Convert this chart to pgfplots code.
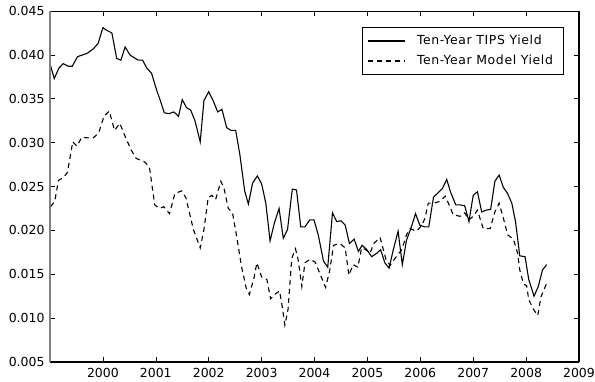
\documentclass[border=0pt]{standalone}
\usepackage{fontspec}
\setmainfont{DejaVu Sans}
\newfontfamily\legfont[LetterSpace=5]{DejaVu Sans}
\usepackage{pgfplots}
\pgfplotsset{compat=1.18}
\begin{document}
\begin{tikzpicture}
\begin{axis}[
  scale only axis,
  clip=false,
  width=529bp, height=351bp,
  xmin=1999, xmax=2009,
  ymin=0.005, ymax=0.045,
  scaled y ticks=false,
  scaled x ticks=false,
  /pgf/number format/assume math mode=true,
  xtick={2000,2001,2002,2003,2004,2005,2006,2007,2008,2009},
  xticklabels={2000,2001,2002,2003,2004,2005,2006,2007,2008,2009},
  ytick={0.005,0.010,0.015,0.020,0.025,0.030,0.035,0.040,0.045},
  yticklabels={0.005,0.010,0.015,0.020,0.025,0.030,0.035,0.040,0.045},
  tick align=inside,
  major tick length=5bp,
  tick style={black, line width=0.6pt},
  axis line style={draw=none},
  tick label style={font=\fontsize{12.5}{14}\selectfont},
  xticklabel style={yshift=-3bp},
  yticklabel style={xshift=-2bp},
  legend cell align=left,
  legend style={at={(0.59,0.954)}, anchor=north west, draw=black, line width=0.6pt,
    inner xsep=5bp, inner ysep=6bp, row sep=5bp, column sep=6bp,
    nodes={font=\legfont\fontsize{12.5}{15}\selectfont, inner xsep=5bp}},
  legend image code/.code={\draw[#1, line width=1.6pt] (0bp,0bp) -- (37bp,0bp);},
]
\addplot[black, line width=1.1pt] coordinates {
(1999.00,0.0390) (1999.08,0.0373) (1999.17,0.0385) (1999.25,0.0390) (1999.35,0.0387)
(1999.42,0.0387) (1999.52,0.0398) (1999.62,0.0400) (1999.71,0.0402) (1999.82,0.0407)
(1999.91,0.0413) (2000.00,0.0431) (2000.07,0.0428) (2000.17,0.0425) (2000.26,0.0396)
(2000.34,0.0394) (2000.42,0.0409) (2000.51,0.0400) (2000.61,0.0396) (2000.67,0.0394)
(2000.75,0.0394) (2000.83,0.0385) (2000.92,0.0379) (2001.02,0.0359) (2001.08,0.0349)
(2001.16,0.0334) (2001.25,0.0333) (2001.34,0.0335) (2001.43,0.0330) (2001.50,0.0349)
(2001.58,0.0340) (2001.66,0.0337) (2001.74,0.0325) (2001.84,0.0301) (2001.91,0.0348)
(2002.00,0.0358) (2002.09,0.0347) (2002.17,0.0335) (2002.25,0.0338) (2002.34,0.0317)
(2002.42,0.0314) (2002.51,0.0314) (2002.59,0.0286) (2002.68,0.0245) (2002.75,0.0230)
(2002.83,0.0254) (2002.92,0.0262) (2003.00,0.0253) (2003.08,0.0231) (2003.16,0.0188)
(2003.24,0.0208) (2003.33,0.0225) (2003.41,0.0191) (2003.49,0.0201) (2003.58,0.0247)
(2003.66,0.0246) (2003.74,0.0204) (2003.82,0.0204) (2003.91,0.0212) (2003.99,0.0212)
(2004.07,0.0195) (2004.17,0.0165) (2004.25,0.0158) (2004.34,0.0220) (2004.42,0.0210)
(2004.50,0.0211) (2004.58,0.0206) (2004.66,0.0185) (2004.75,0.0190) (2004.83,0.0176)
(2004.90,0.0183) (2004.99,0.0178) (2005.08,0.0170) (2005.18,0.0174) (2005.25,0.0178)
(2005.33,0.0163) (2005.41,0.0157) (2005.49,0.0178) (2005.58,0.0199) (2005.66,0.0161)
(2005.74,0.0189) (2005.82,0.0202) (2005.91,0.0219) (2005.99,0.0206) (2006.08,0.0204)
(2006.16,0.0204) (2006.25,0.0238) (2006.34,0.0243) (2006.42,0.0248) (2006.50,0.0258)
(2006.57,0.0244) (2006.67,0.0229) (2006.76,0.0229) (2006.84,0.0228) (2006.92,0.0210)
(2007.00,0.0240) (2007.08,0.0244) (2007.16,0.0221) (2007.24,0.0223) (2007.33,0.0224)
(2007.41,0.0256) (2007.49,0.0263) (2007.57,0.0249) (2007.65,0.0242) (2007.73,0.0231)
(2007.80,0.0210) (2007.88,0.0171) (2007.98,0.0170) (2008.05,0.0144) (2008.15,0.0125)
(2008.23,0.0136) (2008.31,0.0155) (2008.39,0.0161)
};
\addlegendentry{Ten-Year TIPS Yield}
\addplot[black, line width=1.1pt, dash pattern=on 5bp off 4bp] coordinates {
(1999.01,0.0227) (1999.09,0.0233) (1999.16,0.0257) (1999.25,0.0260) (1999.33,0.0266)
(1999.43,0.0301) (1999.51,0.0296) (1999.60,0.0306) (1999.81,0.0305) (1999.92,0.0311)
(2000.02,0.0330) (2000.12,0.0336) (2000.22,0.0314) (2000.32,0.0322) (2000.40,0.0310)
(2000.53,0.0292) (2000.63,0.0282) (2000.79,0.0278) (2000.88,0.0272) (2000.98,0.0229)
(2001.07,0.0225) (2001.15,0.0227) (2001.26,0.0219) (2001.36,0.0242) (2001.49,0.0245)
(2001.57,0.0237) (2001.71,0.0201) (2001.84,0.0180) (2001.91,0.0201) (2001.99,0.0237)
(2002.06,0.0240) (2002.13,0.0235) (2002.23,0.0256) (2002.29,0.0248) (2002.37,0.0225)
(2002.45,0.0220) (2002.54,0.0189) (2002.62,0.0159) (2002.71,0.0134) (2002.77,0.0127)
(2002.86,0.0147) (2002.91,0.0163) (2003.00,0.0147) (2003.10,0.0144) (2003.17,0.0122)
(2003.25,0.0127) (2003.34,0.0131) (2003.39,0.0113) (2003.44,0.0092) (2003.50,0.0110)
(2003.57,0.0168) (2003.64,0.0179) (2003.69,0.0167) (2003.76,0.0136) (2003.82,0.0163)
(2003.91,0.0167) (2004.01,0.0164) (2004.10,0.0151) (2004.21,0.0135) (2004.29,0.0155)
(2004.36,0.0183) (2004.48,0.0185) (2004.58,0.0180) (2004.65,0.0149) (2004.73,0.0161)
(2004.82,0.0158) (2004.89,0.0180) (2004.97,0.0178) (2005.05,0.0174) (2005.12,0.0185)
(2005.24,0.0192) (2005.35,0.0167) (2005.43,0.0160) (2005.52,0.0168) (2005.65,0.0178)
(2005.74,0.0195) (2005.81,0.0202) (2005.93,0.0199) (2006.03,0.0206) (2006.09,0.0214)
(2006.15,0.0231) (2006.25,0.0231) (2006.37,0.0233) (2006.47,0.0239) (2006.56,0.0227)
(2006.62,0.0218) (2006.75,0.0216) (2006.84,0.0220) (2006.92,0.0212) (2007.00,0.0216)
(2007.08,0.0223) (2007.19,0.0202) (2007.32,0.0202) (2007.41,0.0221) (2007.49,0.0231)
(2007.57,0.0214) (2007.65,0.0195) (2007.76,0.0190) (2007.84,0.0174) (2007.88,0.0155)
(2007.95,0.0139) (2008.01,0.0137) (2008.05,0.0121) (2008.14,0.0110) (2008.22,0.0103)
(2008.28,0.0124) (2008.39,0.0140)
};
\addlegendentry{Ten-Year Model Yield}
\draw[black, line width=0.7pt] (rel axis cs:0,1) -- (rel axis cs:1,1);
\draw[black, line width=1.4pt] (rel axis cs:0,0) -- (rel axis cs:1,0);
\draw[black, line width=1.4pt] (rel axis cs:1,0) -- (rel axis cs:1,1);
\draw[gray, line width=1.3pt] (rel axis cs:0,0) -- (rel axis cs:0,1);
\end{axis}
\pgfresetboundingbox
\path[use as bounding box] ([xshift=-50bp,yshift=-20bp]current axis.south west) rectangle ([xshift=16bp,yshift=11bp]current axis.north east);
\end{tikzpicture}
\end{document}
